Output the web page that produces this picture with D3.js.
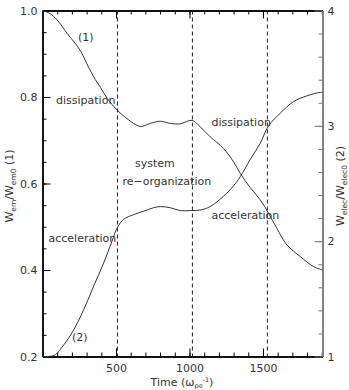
<!DOCTYPE html>
<html>
<head>
<meta charset="utf-8">
<script src="https://cdn.jsdelivr.net/npm/d3@7/dist/d3.min.js"></script>
<style>
  body { margin: 0; background: #fff; }
  text { font-family: "DejaVu Sans", sans-serif; fill: #333; }
</style>
</head>
<body>
<div id="chart"></div>
<script>
// curve (1): W_em / W_em0 (left axis)
const time1 = [0, 50, 100, 170, 220, 260, 300, 330, 360, 395, 440, 507, 575, 665, 733, 801, 869, 937, 1017, 1073, 1141, 1232, 1300, 1346, 1414, 1482, 1538, 1595, 1663, 1754, 1844, 1905];
const wem = [1.0, 0.993, 0.978, 0.946, 0.925, 0.906, 0.878, 0.858, 0.84, 0.822, 0.797, 0.77, 0.75, 0.732, 0.739, 0.744, 0.739, 0.738, 0.746, 0.731, 0.708, 0.681, 0.65, 0.623, 0.59, 0.562, 0.531, 0.496, 0.458, 0.431, 0.408, 0.4];

// curve (2): W_elec / W_elec0 (right axis)
const time2 = [0, 40, 87, 144, 212, 280, 348, 416, 473, 510, 552, 620, 688, 756, 801, 869, 937, 1005, 1073, 1141, 1232, 1300, 1346, 1414, 1482, 1538, 1618, 1708, 1799, 1890, 1905];
const welec = [1.0, 1.0, 1.015, 1.1, 1.23, 1.405, 1.61, 1.81, 2.0, 2.12, 2.19, 2.23, 2.26, 2.29, 2.3, 2.29, 2.265, 2.265, 2.27, 2.3, 2.39, 2.48, 2.56, 2.71, 2.85, 3.0, 3.11, 3.21, 3.26, 3.29, 3.29];

const phaseLines = [510, 1020, 1530];
const xTicks = [500, 1000, 1500];
const xMinor = d3.range(100, 1901, 100);
const leftTicks = [0.2, 0.4, 0.6, 0.8, 1.0];
const leftMinor = d3.range(0.25, 1.0, 0.05);
const rightTicks = [1, 2, 3, 4];
const rightMinor = d3.range(1.2, 4.0, 0.2);

let W = 349, H = 390;
let margin = {top: 10.5, right: 26.5, bottom: 33.5, left: 42.5};
let width = W - margin.left - margin.right;
let height = H - margin.top - margin.bottom;

let svg = d3.select('#chart').append('svg')
  .attr('width', W).attr('height', H);
let g = svg.append('g')
  .attr('transform', 'translate(' + margin.left + ',' + margin.top + ')');

let x = d3.scaleLinear().domain([0, 1905]).range([0, width]);
let yL = d3.scaleLinear().domain([0.2, 1.0]).range([height, 0]);
let yR = d3.scaleLinear().domain([1, 4]).range([height, 0]);

// axes: inward ticks, minor first then major
function styleAxis(sel, color) {
  sel.selectAll('path').attr('stroke', color).attr('stroke-width', 1.4);
  sel.selectAll('line').attr('stroke', color).attr('stroke-width', 1);
  sel.selectAll('text').attr('font-size', 11).attr('fill', '#333')
    .attr('font-family', '"DejaVu Sans", sans-serif');
}

// bottom
g.append('g').attr('transform', 'translate(0,' + height + ')')
  .call(d3.axisBottom(x).tickValues(xMinor).tickSize(-4).tickSizeOuter(0).tickFormat(''))
  .call(s => styleAxis(s, '#000'));
g.append('g').attr('transform', 'translate(0,' + height + ')')
  .call(d3.axisBottom(x).tickValues(xTicks).tickSize(-8).tickSizeOuter(0).tickPadding(8).tickFormat(d3.format('d')))
  .call(s => styleAxis(s, '#000'));
// top
g.append('g')
  .call(d3.axisTop(x).tickValues(xMinor).tickSize(-4).tickSizeOuter(0).tickFormat(''))
  .call(s => styleAxis(s, '#000'));
g.append('g')
  .call(d3.axisTop(x).tickValues(xTicks).tickSize(-8).tickSizeOuter(0).tickFormat(''))
  .call(s => styleAxis(s, '#000'));
// left
g.append('g')
  .call(d3.axisLeft(yL).tickValues(leftMinor).tickSize(-4).tickSizeOuter(0).tickFormat(''))
  .call(s => styleAxis(s, '#000'));
g.append('g')
  .call(d3.axisLeft(yL).tickValues(leftTicks).tickSize(-8).tickSizeOuter(0).tickPadding(5).tickFormat(d3.format('.1f')))
  .call(s => styleAxis(s, '#000'));
// right
g.append('g').attr('transform', 'translate(' + width + ',0)')
  .call(d3.axisRight(yR).tickValues(rightMinor).tickSize(-4).tickSizeOuter(0).tickFormat(''))
  .call(s => styleAxis(s, '#777'));
g.append('g').attr('transform', 'translate(' + width + ',0)')
  .call(d3.axisRight(yR).tickValues(rightTicks).tickSize(-8).tickSizeOuter(0).tickPadding(5).tickFormat(d3.format('d')))
  .call(s => styleAxis(s, '#777'));

// dashed phase boundaries
g.selectAll('.phase').data(phaseLines).enter().append('line')
  .attr('x1', d => x(d)).attr('x2', d => x(d))
  .attr('y1', 0).attr('y2', height)
  .attr('stroke', '#222').attr('stroke-width', 1)
  .attr('stroke-dasharray', '4,3');

// curves
let line1 = d3.line().x((d, i) => x(time1[i])).y(d => yL(d)).curve(d3.curveCatmullRom);
let line2 = d3.line().x((d, i) => x(time2[i])).y(d => yR(d)).curve(d3.curveCatmullRom);
g.append('path').datum(wem).attr('d', line1)
  .attr('fill', 'none').attr('stroke', '#333').attr('stroke-width', 1);
g.append('path').datum(welec).attr('d', line2)
  .attr('fill', 'none').attr('stroke', '#333').attr('stroke-width', 1);

// annotations
function note(px, py, txt) {
  svg.append('text').attr('x', px).attr('y', py).attr('dy', '0.35em')
    .attr('font-size', 11).text(txt);
}
note(78, 37, '(1)');
note(56, 100, 'dissipation');
note(135, 163, 'system');
note(122.5, 181, 're\u2212organization');
note(211.5, 122, 'dissipation');
note(211.5, 215, 'acceleration');
note(48.5, 238, 'acceleration');
note(72, 337, '(2)');

// axis titles
let xt = svg.append('text').attr('x', 182).attr('y', 386)
  .attr('text-anchor', 'middle').attr('font-size', 11);
xt.append('tspan').text('Time  (\u03c9');
xt.append('tspan').attr('font-size', 6.5).attr('dy', 1.5).text('pe');
xt.append('tspan').attr('font-size', 6.5).attr('dy', -6).text('-1');
xt.append('tspan').attr('dy', 4.5).text(')');

function yTitle(px, sub, tag) {
  let t = svg.append('text')
    .attr('transform', 'translate(' + px + ',186) rotate(-90)')
    .attr('text-anchor', 'middle').attr('font-size', 11);
  t.append('tspan').text('W');
  t.append('tspan').attr('font-size', 7.5).attr('dy', 2.5).text(sub);
  t.append('tspan').attr('dy', -2.5).text('/W');
  t.append('tspan').attr('font-size', 7.5).attr('dy', 2.5).text(sub + '0');
  t.append('tspan').attr('dy', -2.5).text('  ' + tag);
}
yTitle(13, 'em', '(1)');
yTitle(344, 'elec', '(2)');
</script>
</body>
</html>
